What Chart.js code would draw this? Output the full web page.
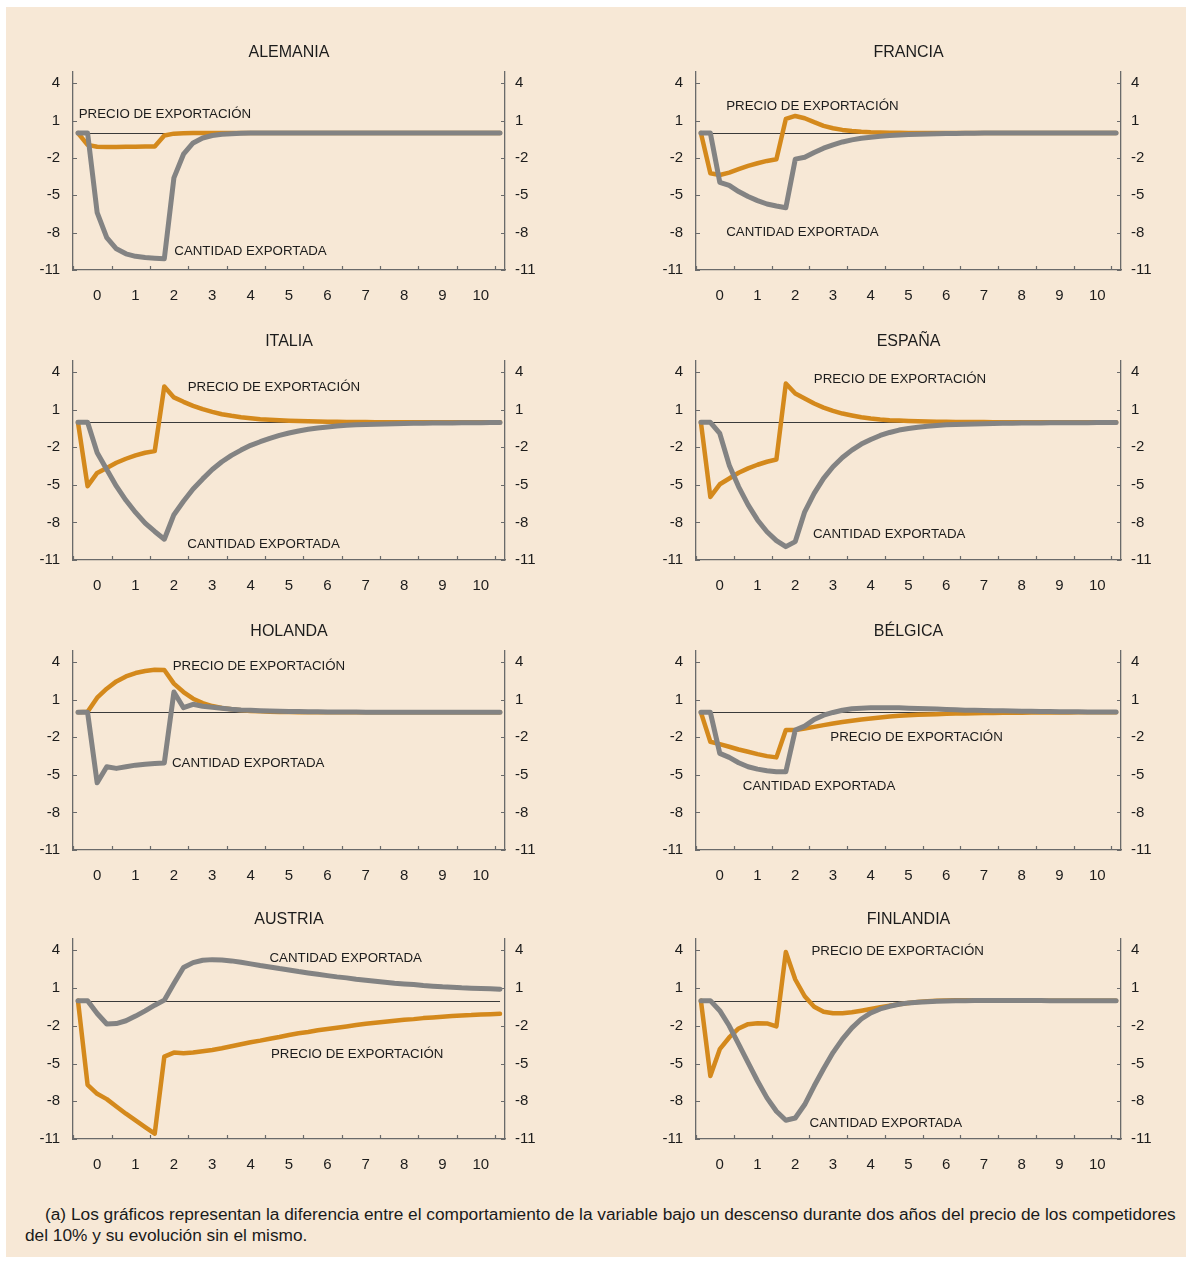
<!DOCTYPE html>
<html lang="es">
<head>
<meta charset="utf-8">
<title>Respuesta de precios y cantidades exportadas</title>
<script src="https://cdn.jsdelivr.net/npm/chart.js@4.4.1/dist/chart.umd.min.js"></script>
<style>
  html, body { margin: 0; padding: 0; background: #ffffff; }
  body { width: 1191px; height: 1263px; position: relative; overflow: hidden; font-family: "Liberation Sans", Arial, sans-serif; }
  #sheet { position: absolute; left: 6px; top: 7px; width: 1180px; height: 1250px; background: #F7E8D6; }
  canvas.panel { position: absolute; }
  #nota { position: absolute; left: 25px; top: 1204px; width: 1160px; font-size: 17.3px; line-height: 21px; color: #1a1a1a; white-space: nowrap; }
  #nota span.first { padding-left: 20px; }
</style>
</head>
<body>
<div id="sheet"></div>
<div id="nota"><span class="first">(a) Los gráficos representan la diferencia entre el comportamiento de la variable bajo un descenso durante dos años del precio de los competidores</span><br>del 10% y su evolución sin el mismo.</div>

<script>
// Quarterly horizon, in years from the start of the shock
const QUARTERS = [-0.5, -0.25, 0, 0.25, 0.5, 0.75, 1, 1.25, 1.5, 1.75, 2, 2.25, 2.5, 2.75, 3, 3.25, 3.5, 3.75,
  4, 4.25, 4.5, 4.75, 5, 5.25, 5.5, 5.75, 6, 6.25, 6.5, 6.75, 7, 7.25, 7.5, 7.75, 8, 8.25, 8.5, 8.75,
  9, 9.25, 9.5, 9.75, 10, 10.25, 10.5];
const YEAR_LABELS = [0, 1, 2, 3, 4, 5, 6, 7, 8, 9, 10];
const YEAR_MARKS = [-0.625, 0.375, 1.375, 2.375, 3.375, 4.375, 5.375, 6.375, 7.375, 8.375, 9.375, 10.375];
const VALUE_TICKS = [4, 1, -2, -5, -8, -11];

// Percentage deviation from the baseline path
const ALEMANIA_PRECIO = [0, -0.95, -1.1, -1.12, -1.12, -1.1, -1.1, -1.08, -1.08, -0.2, -0.05, -0.02,
  0, 0, 0, 0, 0, 0, 0, 0, 0, 0, 0, 0, 0, 0, 0, 0, 0, 0, 0, 0, 0, 0, 0, 0, 0, 0, 0, 0, 0, 0, 0, 0, 0];
const ALEMANIA_CANTIDAD = [0, 0, -6.4, -8.4, -9.3, -9.7, -9.9, -10.0, -10.05, -10.1, -3.6, -1.7, -0.8, -0.4, -0.2, -0.1, -0.05, -0.02,
  0, 0, 0, 0, 0, 0, 0, 0, 0, 0, 0, 0, 0, 0, 0, 0, 0, 0, 0, 0, 0, 0, 0, 0, 0, 0, 0];

const FRANCIA_PRECIO = [0, -3.23, -3.37, -3.18, -2.9, -2.64, -2.43, -2.24, -2.1, 1.13, 1.37, 1.19, 0.87, 0.57, 0.38, 0.25,
  0.17, 0.11, 0.07, 0.05, 0.03, 0.02, 0.01, 0, 0, 0, 0, 0, 0, 0, 0, 0, 0, 0, 0, 0, 0, 0, 0, 0, 0, 0, 0, 0, 0];
const FRANCIA_CANTIDAD = [0, 0, -3.96, -4.2, -4.7, -5.1, -5.43, -5.7, -5.86, -6.0, -2.1, -1.95, -1.57, -1.22, -0.96, -0.72,
  -0.55, -0.42, -0.34, -0.26, -0.2, -0.15, -0.12, -0.09, -0.07, -0.05, -0.04, -0.03, -0.02, -0.01,
  0, 0, 0, 0, 0, 0, 0, 0, 0, 0, 0, 0, 0, 0, 0];

const ITALIA_PRECIO = [0, -5.1, -4.04, -3.64, -3.23, -2.91, -2.64, -2.43, -2.3, 2.87, 1.99, 1.64, 1.32, 1.05, 0.84, 0.65,
  0.52, 0.41, 0.33, 0.25, 0.2, 0.16, 0.13, 0.1, 0.08, 0.06, 0.05, 0.04, 0.03, 0.02, 0.02, 0.01, 0.01,
  0, 0, 0, 0, 0, 0, 0, 0, 0, 0, 0, 0];
const ITALIA_CANTIDAD = [0, 0, -2.43, -3.77, -5.1, -6.23, -7.2, -8.05, -8.72, -9.34, -7.38, -6.31, -5.32, -4.52, -3.77, -3.15,
  -2.64, -2.22, -1.84, -1.55, -1.28, -1.04, -0.85, -0.69, -0.55, -0.45, -0.37, -0.29, -0.23, -0.2, -0.18, -0.15,
  -0.13, -0.11, -0.1, -0.08, -0.07, -0.06, -0.05, -0.05, -0.04, -0.03, -0.03, -0.02, -0.02];

const ESPANA_PRECIO = [0, -5.96, -4.95, -4.49, -4.03, -3.68, -3.39, -3.15, -2.97, 3.1, 2.3, 1.9, 1.5, 1.18, 0.92, 0.7,
  0.55, 0.41, 0.31, 0.23, 0.17, 0.14, 0.11, 0.09, 0.07, 0.05, 0.04, 0.03, 0.03, 0.02, 0.02, 0.01, 0.01,
  0, 0, 0, 0, 0, 0, 0, 0, 0, 0, 0, 0];
const ESPANA_CANTIDAD = [0, 0, -0.89, -3.42, -5.15, -6.6, -7.8, -8.74, -9.45, -9.93, -9.53, -7.15, -5.68, -4.48, -3.55, -2.81,
  -2.22, -1.74, -1.37, -1.05, -0.81, -0.62, -0.49, -0.39, -0.31, -0.25, -0.2, -0.17, -0.15, -0.13, -0.11, -0.1,
  -0.08, -0.07, -0.06, -0.05, -0.05, -0.04, -0.04, -0.03, -0.03, -0.03, -0.02, -0.02, -0.02];

const HOLANDA_PRECIO = [0, 0.05, 1.17, 1.89, 2.47, 2.87, 3.14, 3.3, 3.4, 3.38, 2.29, 1.62, 1.09, 0.74, 0.5, 0.35,
  0.24, 0.16, 0.11, 0.08, 0.05, 0.03, 0.02, 0.01, 0, 0, 0, 0, 0, 0, 0, 0, 0, 0, 0, 0, 0, 0, 0, 0, 0, 0, 0, 0, 0];
const HOLANDA_CANTIDAD = [0, 0, -5.63, -4.35, -4.48, -4.35, -4.22, -4.14, -4.09, -4.04, 1.62, 0.37, 0.64, 0.48, 0.4, 0.32,
  0.24, 0.19, 0.16, 0.13, 0.1, 0.08, 0.07, 0.06, 0.05, 0.04, 0.03, 0.03, 0.02, 0.02, 0.01, 0.01,
  0, 0, 0, 0, 0, 0, 0, 0, 0, 0, 0, 0, 0];

const BELGICA_PRECIO = [0, -2.35, -2.54, -2.75, -2.97, -3.15, -3.34, -3.5, -3.6, -1.42, -1.42, -1.29, -1.16, -1.02, -0.89, -0.78,
  -0.68, -0.57, -0.49, -0.41, -0.33, -0.28, -0.23, -0.2, -0.17, -0.15, -0.12, -0.1, -0.09, -0.07, -0.06, -0.05,
  -0.04, -0.03, -0.03, -0.02, -0.02, -0.01, -0.01, -0.01, 0, 0, 0, 0, 0];
const BELGICA_CANTIDAD = [0, 0, -3.28, -3.6, -4.03, -4.35, -4.54, -4.67, -4.75, -4.75, -1.42, -1.1, -0.57, -0.23, -0.01, 0.17,
  0.28, 0.33, 0.36, 0.36, 0.36, 0.36, 0.33, 0.31, 0.28, 0.26, 0.23, 0.2, 0.17, 0.16, 0.15, 0.13,
  0.12, 0.1, 0.09, 0.08, 0.07, 0.06, 0.05, 0.05, 0.04, 0.03, 0.03, 0.02, 0.02];

const AUSTRIA_PRECIO = [0, -6.69, -7.41, -7.83, -8.41, -8.99, -9.52, -10.05, -10.58, -4.45, -4.13, -4.19, -4.13, -4.03, -3.92, -3.79,
  -3.63, -3.47, -3.31, -3.18, -3.03, -2.89, -2.73, -2.6, -2.5, -2.36, -2.26, -2.15, -2.05, -1.94, -1.84, -1.76,
  -1.68, -1.6, -1.52, -1.47, -1.39, -1.34, -1.28, -1.23, -1.18, -1.15, -1.1, -1.08, -1.05];
const AUSTRIA_CANTIDAD = [0, 0, -1.02, -1.86, -1.82, -1.6, -1.23, -0.81, -0.36, 0.04, 1.36, 2.63, 3.02, 3.21, 3.26, 3.23,
  3.16, 3.05, 2.92, 2.79, 2.68, 2.55, 2.44, 2.31, 2.2, 2.1, 1.99, 1.89, 1.81, 1.7, 1.62, 1.54,
  1.47, 1.39, 1.33, 1.28, 1.2, 1.15, 1.1, 1.07, 1.02, 0.99, 0.96, 0.94, 0.91];

const FINLANDIA_PRECIO = [0, -5.99, -3.86, -2.93, -2.21, -1.87, -1.79, -1.81, -2.05, 3.86, 1.68, 0.35, -0.48, -0.88, -1.01, -1.01,
  -0.93, -0.8, -0.66, -0.53, -0.4, -0.29, -0.18, -0.1, -0.05, 0, 0.02, 0.03, 0.03, 0.03, 0.02, 0.02,
  0.02, 0.01, 0.01, 0.01, 0, 0, 0, 0, 0, 0, 0, 0, 0];
const FINLANDIA_CANTIDAD = [0, 0, -0.8, -2.0, -3.46, -4.93, -6.39, -7.73, -8.79, -9.51, -9.33, -8.26, -6.79, -5.41, -4.13, -3.06,
  -2.16, -1.46, -0.98, -0.66, -0.45, -0.29, -0.18, -0.13, -0.08, -0.05, -0.03, -0.01, 0, 0.01, 0.01, 0.01,
  0.01, 0.01, 0.01, 0.01, 0.01, 0, 0, 0, 0, 0, 0, 0, 0];

const PRECIO = 'PRECIO DE EXPORTACIÓN';
const CANTIDAD = 'CANTIDAD EXPORTADA';

// Panel grid: column boxes (canvas left/width) and row plot areas (top/bottom of the value axis)
const COLUMNS = [{ left: 6, width: 566 }, { left: 629, width: 559 }];
const ROWS = [{ top: 72, bottom: 270 }, { top: 361, bottom: 560 }, { top: 651, bottom: 850 }, { top: 939, bottom: 1139 }];
const AXIS_WIDTH = 67;
const TITLE_SPACE = 40;
const XAXIS_SPACE = 40;

// Series annotations are anchored in data units (years, percent)
const PANELS = [
  { title: 'ALEMANIA', col: 0, row: 0, precio: ALEMANIA_PRECIO, cantidad: ALEMANIA_CANTIDAD,
    notes: [[PRECIO, -0.48, 1.54], [CANTIDAD, 2.01, -9.53]] },
  { title: 'FRANCIA', col: 1, row: 0, precio: FRANCIA_PRECIO, cantidad: FRANCIA_CANTIDAD,
    notes: [[PRECIO, 0.17, 2.12], [CANTIDAD, 0.17, -8.0]] },
  { title: 'ITALIA', col: 0, row: 1, precio: ITALIA_PRECIO, cantidad: ITALIA_CANTIDAD,
    notes: [[PRECIO, 2.36, 2.8], [CANTIDAD, 2.35, -9.72]] },
  { title: 'ESPAÑA', col: 1, row: 1, precio: ESPANA_PRECIO, cantidad: ESPANA_CANTIDAD,
    notes: [[PRECIO, 2.49, 3.42], [CANTIDAD, 2.47, -8.92]] },
  { title: 'HOLANDA', col: 0, row: 2, precio: HOLANDA_PRECIO, cantidad: HOLANDA_CANTIDAD,
    notes: [[PRECIO, 1.97, 3.67], [CANTIDAD, 1.95, -4.04]] },
  { title: 'BÉLGICA', col: 1, row: 2, precio: BELGICA_PRECIO, cantidad: BELGICA_CANTIDAD,
    notes: [[PRECIO, 2.93, -2.0], [CANTIDAD, 0.61, -5.94]] },
  { title: 'AUSTRIA', col: 0, row: 3, precio: AUSTRIA_PRECIO, cantidad: AUSTRIA_CANTIDAD,
    notes: [[CANTIDAD, 4.49, 3.39], [PRECIO, 4.53, -4.24]] },
  { title: 'FINLANDIA', col: 1, row: 3, precio: FINLANDIA_PRECIO, cantidad: FINLANDIA_CANTIDAD,
    notes: [[PRECIO, 2.43, 3.95], [CANTIDAD, 2.38, -9.78]] }
];

const FONT = '"Liberation Sans", Arial, Helvetica, sans-serif';
const ORANGE = '#D4891C';
const GREY = '#838383';
const AXIS = '#6a6a6a';
const TEXT = '#1c1c1c';

// Zero reference line, inward tick marks and in-plot series names
const panelDecor = {
  id: 'panelDecor',
  beforeDatasetsDraw(chart) {
    const { ctx, chartArea, scales } = chart;
    const x = scales.x, y = scales.y;
    ctx.save();
    ctx.strokeStyle = '#3a3a3a';
    ctx.lineWidth = 1.1;
    const y0 = Math.round(y.getPixelForValue(0)) + 0.5;
    ctx.beginPath();
    ctx.moveTo(x.getPixelForValue(QUARTERS[0]), y0);
    ctx.lineTo(x.getPixelForValue(QUARTERS[QUARTERS.length - 1]), y0);
    ctx.stroke();

    ctx.strokeStyle = AXIS;
    ctx.lineWidth = 1.2;
    ctx.beginPath();
    VALUE_TICKS.forEach(v => {
      const py = Math.round(y.getPixelForValue(v)) + 0.5;
      ctx.moveTo(chartArea.left, py); ctx.lineTo(chartArea.left + 4, py);
      ctx.moveTo(chartArea.right, py); ctx.lineTo(chartArea.right - 4, py);
    });
    YEAR_MARKS.forEach(t => {
      const px = Math.round(x.getPixelForValue(t)) + 0.5;
      ctx.moveTo(px, chartArea.bottom); ctx.lineTo(px, chartArea.bottom - 4);
    });
    ctx.stroke();
    ctx.restore();
  },
  afterDatasetsDraw(chart, args, opts) {
    const { ctx, scales } = chart;
    ctx.save();
    ctx.fillStyle = TEXT;
    ctx.font = '13.3px ' + FONT;
    ctx.textAlign = 'left';
    ctx.textBaseline = 'middle';
    (opts.notes || []).forEach(([txt, t, v]) => {
      ctx.fillText(txt, scales.x.getPixelForValue(t), scales.y.getPixelForValue(v));
    });
    ctx.restore();
  }
};

function valueAxis(position, pad) {
  return {
    type: 'linear',
    position: position,
    min: -11,
    max: 4.9,
    grid: { display: false, drawTicks: false },
    border: { display: true, color: AXIS, width: 1.3 },
    ticks: { color: TEXT, font: { family: FONT, size: 15 }, padding: pad, autoSkip: false },
    afterBuildTicks: s => { s.ticks = VALUE_TICKS.map(v => ({ value: v })); },
    afterFit: s => { s.width = AXIS_WIDTH; }
  };
}

PANELS.forEach(p => {
  const col = COLUMNS[p.col];
  const row = ROWS[p.row];
  const canvas = document.createElement('canvas');
  canvas.className = 'panel';
  const h = TITLE_SPACE + (row.bottom - row.top) + XAXIS_SPACE;
  canvas.width = col.width;
  canvas.height = h;
  canvas.style.left = col.left + 'px';
  canvas.style.top = (row.top - TITLE_SPACE) + 'px';
  canvas.style.width = col.width + 'px';
  canvas.style.height = h + 'px';
  document.body.appendChild(canvas);

  new Chart(canvas, {
    type: 'line',
    data: {
      datasets: [
        {
          label: CANTIDAD,
          data: QUARTERS.map((t, i) => ({ x: t, y: p.cantidad[i] })),
          borderColor: GREY, borderWidth: 5, pointRadius: 0, tension: 0,
          borderJoinStyle: 'round', borderCapStyle: 'round', order: 0
        },
        {
          label: PRECIO,
          data: QUARTERS.map((t, i) => ({ x: t, y: p.precio[i] })),
          borderColor: ORANGE, borderWidth: 4.5, pointRadius: 0, tension: 0,
          borderJoinStyle: 'round', borderCapStyle: 'round', order: 1
        }
      ]
    },
    options: {
      responsive: false,
      animation: false,
      devicePixelRatio: 1,
      layout: { padding: 0 },
      events: [],
      plugins: {
        legend: { display: false },
        tooltip: { enabled: false },
        title: {
          display: true, text: p.title, color: TEXT,
          font: { family: FONT, size: 16, weight: 'normal' },
          padding: { top: 10.8, bottom: 10 }
        },
        panelDecor: { notes: p.notes }
      },
      scales: {
        x: {
          type: 'linear',
          position: 'bottom',
          min: -0.63,
          max: 10.63,
          grid: { display: false, drawTicks: false },
          border: { display: true, color: AXIS, width: 1.3 },
          ticks: { color: TEXT, font: { family: FONT, size: 15 }, padding: 17, autoSkip: false, maxRotation: 0 },
          afterBuildTicks: s => { s.ticks = YEAR_LABELS.map(v => ({ value: v })); },
          afterFit: s => { s.height = XAXIS_SPACE; }
        },
        y: valueAxis('left', 13),
        y2: valueAxis('right', 10)
      }
    },
    plugins: [panelDecor]
  });
});
</script>
</body>
</html>
